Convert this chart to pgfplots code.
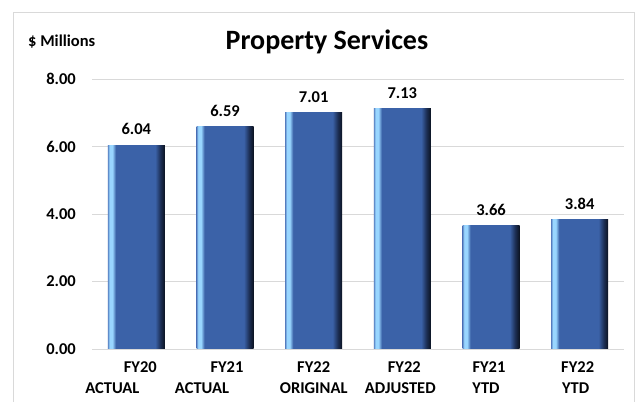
\documentclass[border=0pt]{standalone}
\usepackage{fontspec}
\setmainfont{Carlito}
\usepackage{pgfplots}
\pgfplotsset{compat=1.18}

\definecolor{baredge}{HTML}{5A84C4}
\definecolor{barlight}{HTML}{99D6FF}
\definecolor{barbody}{HTML}{3B62A8}
\definecolor{bardark}{HTML}{1D3057}
\definecolor{barvdark}{HTML}{0B1220}
\definecolor{gridgray}{HTML}{D9D9D9}

\pgfdeclarehorizontalshading{barshade}{100bp}{%
  color(0bp)=(baredge); color(25bp)=(baredge); color(26.5bp)=(barlight);
  color(29bp)=(barlight); color(32bp)=(barbody); color(66.5bp)=(barbody);
  color(71bp)=(bardark); color(75bp)=(barvdark); color(100bp)=(barvdark)}

\newcommand{\lbl}{\bfseries\fontsize{16.5bp}{21bp}\selectfont}

\pgfplotsset{bar3d/.style={ybar, bar width=57bp, draw=none, shade, shading=barshade}}

\begin{document}
\begin{tikzpicture}
  \useasboundingbox (0bp,0bp) rectangle (644bp,402bp);
  \draw[gridgray] (13bp,0bp) -- (13bp,390bp) -- (634bp,390bp) -- (634bp,0bp);
  \node[font=\bfseries\fontsize{28bp}{32bp}\selectfont] at (327bp,360bp) {Property Services};
  \node[font=\lbl, anchor=west, inner sep=0pt] at (28bp,360bp) {\$ Millions};

  \begin{axis}[
      at={(92bp,53bp)}, anchor=south west,
      width=532bp, height=270bp, scale only axis,
      xmin=-0.5, xmax=5.5, ymin=0, ymax=8,
      ytick={0,2,4,6,8},
      xtick={0,1,2,3,4,5},
      xticklabels={
        {\hspace*{8bp}FY20\\ACTUAL\hspace*{48bp}},
        {\hspace*{4bp}FY21\\ACTUAL\hspace*{46bp}},
        {FY22\\ORIGINAL},
        {\hspace*{4bp}FY22\\ADJUSTED\hspace*{4bp}},
        {FY21\hspace*{4bp}\\YTD\hspace*{10bp}},
        {FY22\hspace*{4bp}\\YTD\hspace*{8bp}}},
      axis line style={draw=none},
      major tick length=0pt,
      ymajorgrids, grid style={gridgray, line width=0.8pt},
      yticklabel style={font=\lbl, anchor=east, inner sep=0pt, xshift=-16bp,
        /pgf/number format/.cd, fixed, fixed zerofill, precision=2, assume math mode=true},
      xticklabel style={font=\lbl, align=center, anchor=north, inner sep=0pt, yshift=-12bp},
      nodes near coords,
      nodes near coords style={font=\lbl, anchor=south, inner sep=0pt, yshift=10bp,
        /pgf/number format/.cd, fixed, fixed zerofill, precision=2, assume math mode=true},
    ]
    % one plot per bar so that each bar gets its own shading
    \addplot[bar3d] coordinates {(0, 6.04)};
    \addplot[bar3d] coordinates {(1, 6.59)};
    \addplot[bar3d] coordinates {(2, 7.01)};
    \addplot[bar3d] coordinates {(3, 7.13)};
    \addplot[bar3d] coordinates {(4, 3.66)};
    \addplot[bar3d] coordinates {(5, 3.84)};
  \end{axis}
\end{tikzpicture}
\end{document}
